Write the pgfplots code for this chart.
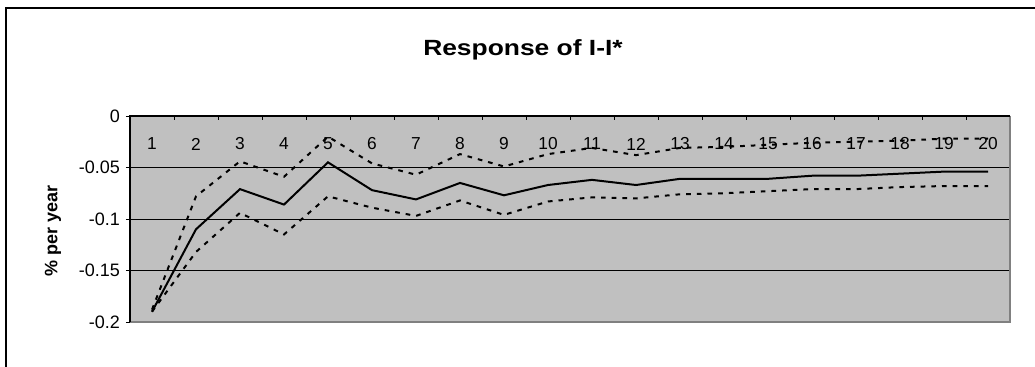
\documentclass[border=0pt]{standalone}
\usepackage{pgfplots}
\pgfplotsset{compat=1.18}
\usepackage{fontspec}
\setmainfont{Liberation Sans}
\usepackage{graphicx}
\definecolor{bgc}{HTML}{C0C0C0}
\definecolor{brd}{HTML}{808080}
\pgfplotstableread{
x mid upper lower
1 -0.190 -0.188 -0.190
2 -0.110 -0.078 -0.132
3 -0.071 -0.044 -0.094
4 -0.086 -0.059 -0.115
5 -0.045 -0.020 -0.078
6 -0.072 -0.046 -0.089
7 -0.081 -0.057 -0.097
8 -0.065 -0.037 -0.082
9 -0.077 -0.049 -0.096
10 -0.067 -0.037 -0.083
11 -0.062 -0.031 -0.079
12 -0.067 -0.038 -0.080
13 -0.061 -0.031 -0.076
14 -0.061 -0.030 -0.075
15 -0.061 -0.028 -0.073
16 -0.058 -0.026 -0.071
17 -0.058 -0.025 -0.071
18 -0.056 -0.024 -0.069
19 -0.054 -0.022 -0.068
20 -0.054 -0.022 -0.068
}\datatable
\begin{document}
\begin{tikzpicture}[x=1pt,y=1pt]
\useasboundingbox (0,0) rectangle (776.25,275.25);
\draw[line width=1.3pt] (4.5,-5) -- (4.5,269.25) -- (790,269.25);
\begin{axis}[
  at={(97.5pt,33.75pt)}, anchor=south west,
  scale only axis, width=660pt, height=154.5pt,
  xmin=0.5, xmax=20.5, ymin=-0.2, ymax=0,
  axis line style={draw=none},
  axis background/.style={fill=bgc},
  ytick={-0.2,-0.15,-0.1,-0.05,0},
  yticklabels={-0.2,-0.15,-0.1,-0.05,0},
  ymajorgrids, grid style={black, line width=0.6pt},
  ytick pos=left, tick align=outside,
  major tick length=3pt,
  ytick style={black, line width=0.6pt},
  yticklabel style={font=\fontsize{13.5}{15}\selectfont, xshift=-1pt},
  xtick={1,2,3,4,5,6,7,8,9,10,11,12,13,14,15,16,17,18,19,20},
  xticklabels={1,2,3,4,5,6,7,8,9,10,11,12,13,14,15,16,17,18,19,20},
  xtick pos=upper, xticklabel pos=upper,
  xtick style={draw=none},
  xticklabel style={font=\fontsize{13}{15}\selectfont, anchor=center, yshift=-24pt},
  extra x ticks={0.5,1.5,2.5,3.5,4.5,5.5,6.5,7.5,8.5,9.5,10.5,11.5,12.5,13.5,14.5,15.5,16.5,17.5,18.5,19.5,20.5},
  extra x tick labels={},
  extra x tick style={xtick style={draw=black, line width=0.6pt, yshift=-3pt}, grid=none},
  clip=false,
]
\addplot[black, line width=1.5pt] table[x=x, y=mid] {\datatable};
\addplot[black, line width=1.5pt, dash pattern=on 3.5pt off 4.5pt] table[x=x, y=upper] {\datatable};
\addplot[black, line width=1.5pt, dash pattern=on 3.5pt off 4.5pt] table[x=x, y=lower] {\datatable};
\draw[brd, line width=1.5pt] (rel axis cs:0,0) -- (rel axis cs:1,0) -- (rel axis cs:1,1);
\draw[black, line width=0.8pt] (rel axis cs:0,0) -- (rel axis cs:0,1) -- (rel axis cs:1,1);
\end{axis}
\node at (392.25,237.75) {\fontsize{16.5}{19}\selectfont\bfseries\scalebox{1.2}[1]{Response of I-I*}};
\node[rotate=90] at (39.75,102) {\fontsize{13.5}{16}\selectfont\bfseries \% per year};
\end{tikzpicture}
\end{document}
